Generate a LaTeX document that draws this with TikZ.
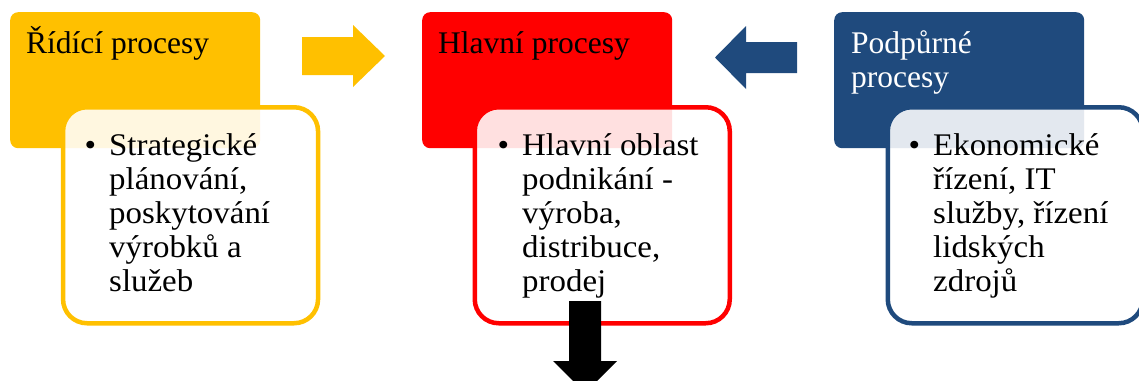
\documentclass[tikz,border=0pt]{standalone}
\usepackage{fontspec}
\setmainfont{Liberation Serif}
\newfontfamily\itemfont[FakeStretch=1.045]{Liberation Serif}
\definecolor{ctlyellow}{HTML}{FFC000}
\definecolor{mainred}{HTML}{FF0000}
\definecolor{supblue}{HTML}{1F4A7D}
\begin{document}
\begin{tikzpicture}[x=1pt,y=-1pt,
  headbox/.style={anchor=north west, inner sep=0pt, rounded corners=8pt,
    minimum width=250pt, minimum height=136pt},
  card/.style={anchor=north west, inner sep=0pt, line width=4.5pt,
    rounded corners=24pt, fill=white, fill opacity=0.88,
    minimum width=255pt, minimum height=216pt},
  % multi-line nodes sit on the baseline of their last line
  title/.style={anchor=base west, inner sep=0pt, align=left,
    font=\fontsize{31.5}{34.5}\selectfont},
  items/.style={anchor=base west, inner sep=0pt, align=left,
    font=\itemfont\fontsize{31.5}{34}\selectfont}
]
\clip (0,0) rectangle (1139,380);

% management processes
\node[headbox, fill=ctlyellow] (ctlhead) at (10,12) {};
\node[title] (ctltitle) at (26,53) {Řídící procesy};
\node[card, draw=ctlyellow] (ctlcard) at (60.8,105) {};
\node[items] (ctlitems) at (109,291)
  {\llap{•\hspace{13pt}}Strategické\\plánování,\\poskytování\\výrobků a\\služeb};

% main processes
\node[headbox, fill=mainred] (mainhead) at (422,12) {};
\node[title] (maintitle) at (438,53) {Hlavní procesy};
\node[card, draw=mainred] (maincard) at (472.5,105) {};
\node[items] (mainitems) at (522,291)
  {\llap{•\hspace{13pt}}Hlavní oblast\\podnikání -\\výroba,\\distribuce,\\prodej};

% support processes
\node[headbox, fill=supblue] (suphead) at (834,12) {};
\node[title, text=white] (suptitle) at (851,87.5) {Podpůrné\\procesy};
\node[card, draw=supblue] (supcard) at (885.5,105) {};
\node[items] (supitems) at (933,291)
  {\llap{•\hspace{13pt}}Ekonomické\\řízení, IT\\služby, řízení\\lidských\\zdrojů};

% block arrows
\fill[ctlyellow] (302,37) -- (353,37) -- (353,25) -- (385,56) -- (353,87)
  -- (353,75) -- (302,75) -- cycle;
\fill[supblue] (797,42) -- (746,42) -- (746,26) -- (715,57.5) -- (746,89)
  -- (746,73) -- (797,73) -- cycle;
\fill[black] (569,301) -- (601,301) -- (601,361) -- (617,361) -- (585,393)
  -- (553,361) -- (569,361) -- cycle;
\end{tikzpicture}
\end{document}
